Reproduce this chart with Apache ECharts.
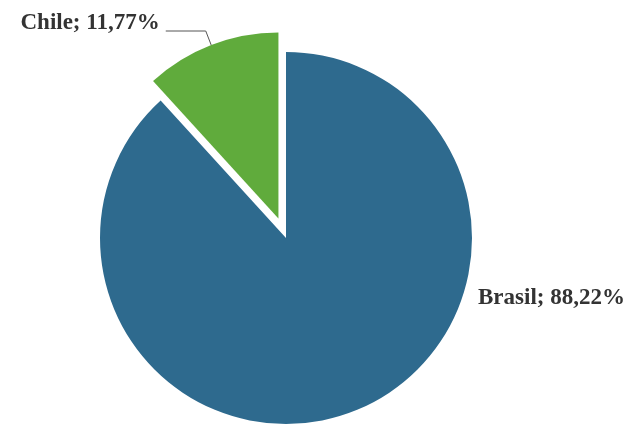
<!DOCTYPE html>
<html>
<head>
<meta charset="utf-8">
<script src="https://cdn.jsdelivr.net/npm/echarts@6/dist/echarts.min.js"></script>
<style>
  html, body { margin: 0; padding: 0; background: #ffffff; }
  #chart { width: 631px; height: 425px; }
</style>
</head>
<body>
<div id="chart"></div>
<script>
// Participação por país (%)
const countries = ['Brasil', 'Chile'];
const shares = [88.22, 11.77];
const sliceColors = ['#2e6a8e', '#60ab3c'];

const fmt = v => v.toFixed(2).replace('.', ',');

const chart = echarts.init(document.getElementById('chart'), null, { renderer: 'canvas' });

const data = countries.map((name, i) => ({
  name,
  value: shares[i],
  selected: name === 'Chile',
  itemStyle: { color: sliceColors[i] },
  select: { itemStyle: { color: sliceColors[i], borderWidth: 0 } },
  labelLine: name === 'Chile'
    ? { show: true, length: 15, length2: 40 }
    : { show: false }
}));

chart.setOption({
  backgroundColor: '#ffffff',
  animation: false,
  series: [{
    type: 'pie',
    center: [286, 238],
    radius: 186,
    startAngle: 90,
    clockwise: true,
    selectedMode: 'single',
    selectedOffset: 21,
    avoidLabelOverlap: false,
    itemStyle: { borderWidth: 0 },
    label: {
      show: true,
      position: 'outside',
      formatter: p => p.name + '; ' + fmt(p.value) + '%',
      fontFamily: '"Liberation Serif", "DejaVu Serif", serif',
      fontWeight: 'bold',
      fontSize: 23,
      color: '#333333'
    },
    labelLine: {
      lineStyle: { color: '#555555', width: 1 }
    },
    // Brasil's label sits to the right of the pie; Chile's is lifted above its leader line
    labelLayout: p => p.dataIndex === 0
      ? { x: 478, y: 298, align: 'left', verticalAlign: 'middle' }
      : { dx: -1, dy: -8 },
    emphasis: { disabled: true },
    data
  }]
});
</script>
</body>
</html>
